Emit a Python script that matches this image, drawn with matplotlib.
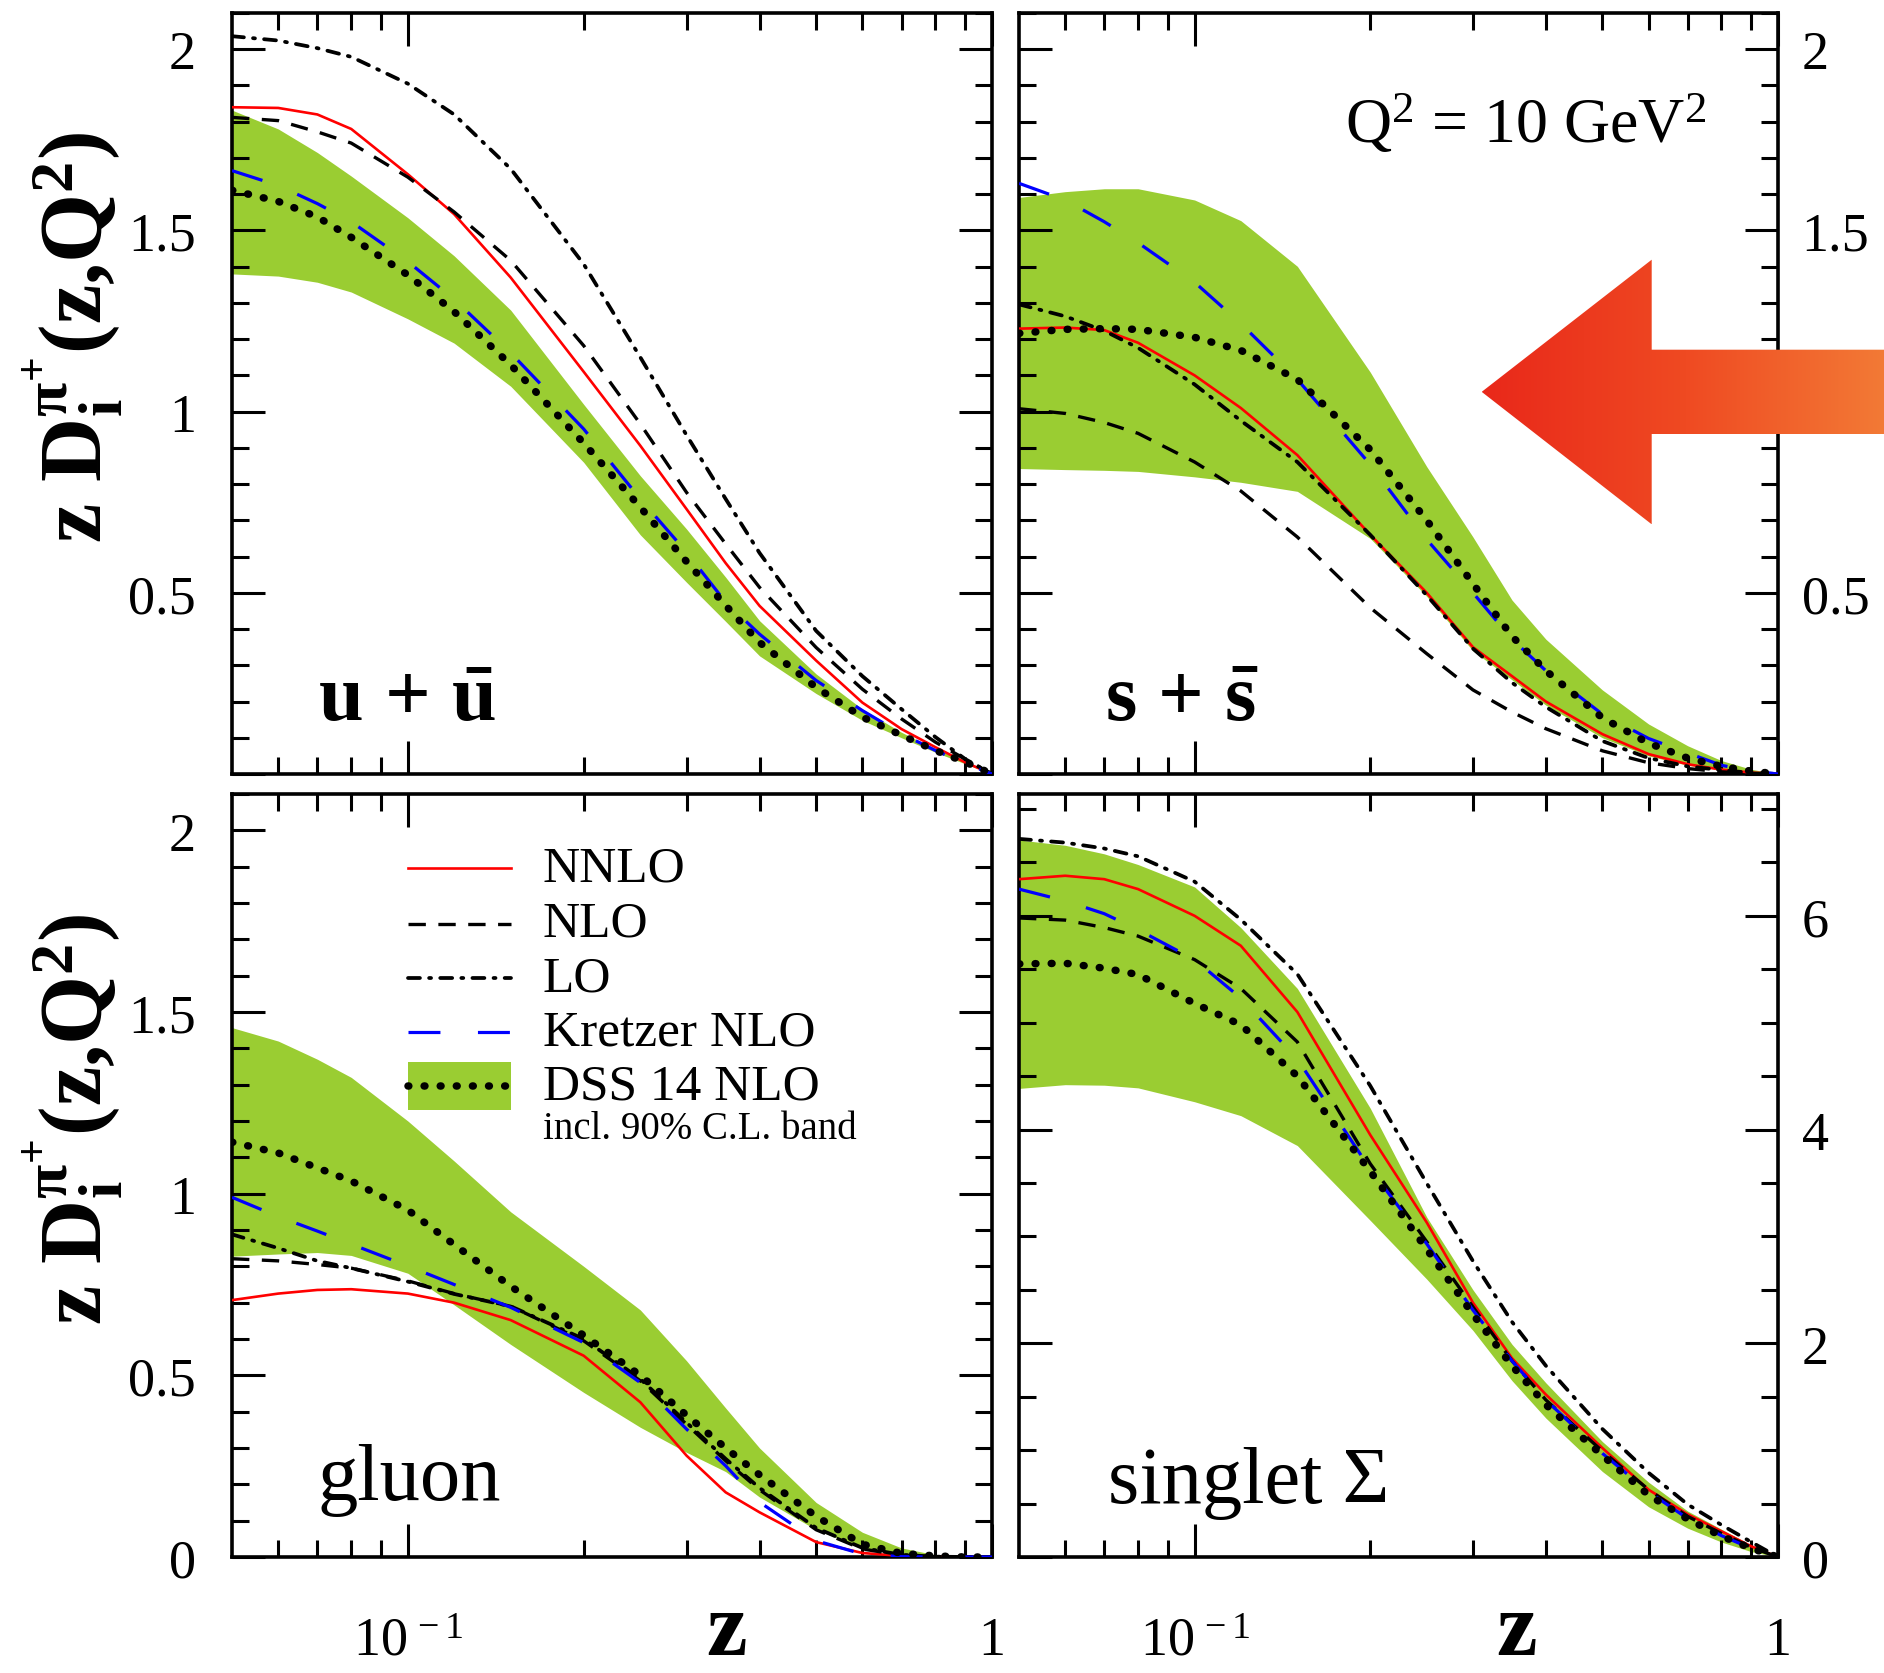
import numpy as np
import matplotlib
matplotlib.use("Agg")
import matplotlib.pyplot as plt
from matplotlib.ticker import (MultipleLocator, FixedLocator, FuncFormatter,
                               NullFormatter)
from matplotlib.patches import Polygon, Rectangle
from matplotlib.colors import LinearSegmentedColormap

plt.rcParams['font.family'] = ['Liberation Serif', 'DejaVu Serif']
plt.rcParams['mathtext.fontset'] = 'custom'
plt.rcParams['mathtext.rm'] = 'Liberation Serif'
plt.rcParams['mathtext.it'] = 'Liberation Serif:italic'
plt.rcParams['mathtext.bf'] = 'Liberation Serif:bold'
plt.rcParams['lines.scale_dashes'] = False

# ---------------- data ----------------
z = [0.05, 0.06, 0.07, 0.08, 0.1, 0.12, 0.15, 0.2, 0.25, 0.3, 0.35, 0.4,
     0.5, 0.6, 0.7, 0.8, 0.9, 1.0]

# u + ubar
u_nnlo = [1.84, 1.838, 1.82, 1.78, 1.655, 1.545, 1.37, 1.11, 0.906, 0.731, 0.582, 0.464, 0.313, 0.197, 0.124, 0.074, 0.032, 0.0]
u_nlo = [1.812, 1.803, 1.772, 1.741, 1.647, 1.551, 1.417, 1.182, 0.966, 0.777, 0.635, 0.515, 0.349, 0.234, 0.152, 0.088, 0.041, 0.0]
u_lo = [2.036, 2.024, 2.003, 1.979, 1.905, 1.82, 1.67, 1.407, 1.15, 0.935, 0.759, 0.61, 0.395, 0.27, 0.179, 0.102, 0.041, 0.0]
u_kretzer = [1.665, 1.624, 1.574, 1.524, 1.414, 1.31, 1.162, 0.952, 0.759, 0.612, 0.474, 0.386, 0.258, 0.175, 0.111, 0.065, 0.029, 0.0]
u_dss = [1.611, 1.58, 1.537, 1.481, 1.377, 1.276, 1.129, 0.913, 0.736, 0.586, 0.465, 0.363, 0.239, 0.157, 0.107, 0.065, 0.033, 0.0]
u_band_hi = [1.832, 1.78, 1.715, 1.65, 1.535, 1.43, 1.28, 1.02, 0.823, 0.676, 0.543, 0.423, 0.276, 0.179, 0.115, 0.069, 0.035, 0.0]
u_band_lo = [1.38, 1.374, 1.357, 1.33, 1.256, 1.189, 1.07, 0.86, 0.66, 0.529, 0.421, 0.326, 0.222, 0.148, 0.1, 0.06, 0.028, 0.0]

# s + sbar
s_nnlo = [1.229, 1.232, 1.225, 1.19, 1.10, 1.01, 0.88, 0.66, 0.50, 0.35, 0.27, 0.20, 0.11, 0.055, 0.027, 0.012, 0.004, 0.0]
s_nlo = [1.008, 0.995, 0.97, 0.94, 0.861, 0.781, 0.654, 0.459, 0.332, 0.232, 0.171, 0.125, 0.064, 0.031, 0.015, 0.006, 0.002, 0.0]
s_lo = [1.296, 1.263, 1.223, 1.176, 1.075, 0.975, 0.861, 0.66, 0.493, 0.346, 0.252, 0.185, 0.091, 0.044, 0.021, 0.011, 0.003, 0.0]
s_kretzer = [1.63, 1.584, 1.524, 1.466, 1.357, 1.243, 1.089, 0.854, 0.647, 0.5, 0.372, 0.285, 0.165, 0.098, 0.058, 0.024, 0.008, 0.0]
s_dss = [1.216, 1.227, 1.229, 1.227, 1.205, 1.169, 1.089, 0.895, 0.70, 0.525, 0.38, 0.285, 0.155, 0.085, 0.044, 0.021, 0.008, 0.0]
s_band_hi = [1.591, 1.607, 1.615, 1.615, 1.584, 1.527, 1.401, 1.109, 0.848, 0.654, 0.48, 0.372, 0.232, 0.138, 0.078, 0.037, 0.013, 0.0]
s_band_lo = [0.843, 0.84, 0.838, 0.835, 0.82, 0.805, 0.78, 0.65, 0.49, 0.34, 0.26, 0.19, 0.10, 0.05, 0.024, 0.011, 0.003, 0.0]

# gluon
g_nnlo = [0.707, 0.725, 0.735, 0.737, 0.725, 0.70, 0.652, 0.554, 0.426, 0.279, 0.178, 0.123, 0.041, 0.011, 0.003, 0.0, 0.0, 0.0]
g_nlo = [0.821, 0.815, 0.805, 0.795, 0.76, 0.725, 0.69, 0.595, 0.485, 0.365, 0.265, 0.185, 0.075, 0.022, 0.005, 0.001, 0.0, 0.0]
g_lo = [0.888, 0.85, 0.815, 0.795, 0.758, 0.724, 0.69, 0.60, 0.49, 0.37, 0.27, 0.19, 0.08, 0.025, 0.006, 0.001, 0.0, 0.0]
g_kretzer = [0.99, 0.937, 0.897, 0.861, 0.801, 0.75, 0.687, 0.59, 0.48, 0.352, 0.251, 0.151, 0.045, 0.008, 0.001, 0.0, 0.0, 0.0]
g_dss = [1.142, 1.112, 1.071, 1.035, 0.955, 0.86, 0.745, 0.61, 0.50, 0.39, 0.30, 0.226, 0.112, 0.035, 0.01, 0.003, 0.0, 0.0]
g_band_hi = [1.457, 1.42, 1.37, 1.32, 1.20, 1.09, 0.95, 0.80, 0.68, 0.54, 0.41, 0.30, 0.15, 0.068, 0.025, 0.006, 0.0, 0.0]
g_band_lo = [0.828, 0.834, 0.838, 0.83, 0.781, 0.694, 0.585, 0.453, 0.357, 0.288, 0.235, 0.165, 0.075, 0.025, 0.007, 0.001, 0.0, 0.0]

# singlet Sigma
t_nnlo = [6.343, 6.375, 6.343, 6.25, 6.0, 5.72, 5.1, 3.95, 3.13, 2.38, 1.86, 1.52, 1.02, 0.63, 0.40, 0.24, 0.10, 0.0]
t_nlo = [5.98, 5.96, 5.89, 5.81, 5.59, 5.32, 4.82, 3.68, 2.95, 2.34, 1.835, 1.47, 0.99, 0.63, 0.38, 0.22, 0.09, 0.0]
t_lo = [6.72, 6.685, 6.63, 6.557, 6.32, 5.965, 5.455, 4.41, 3.497, 2.769, 2.2, 1.79, 1.198, 0.788, 0.492, 0.30, 0.14, 0.0]
t_kretzer = [6.25, 6.14, 6.02, 5.87, 5.59, 5.23, 4.66, 3.63, 2.93, 2.31, 1.835, 1.47, 0.97, 0.61, 0.36, 0.20, 0.08, 0.0]
t_dss = [5.55, 5.556, 5.51, 5.45, 5.18, 4.98, 4.5, 3.61, 2.88, 2.27, 1.79, 1.425, 0.95, 0.58, 0.355, 0.195, 0.08, 0.0]
t_band_hi = [6.71, 6.66, 6.58, 6.48, 6.27, 5.89, 5.32, 4.2, 3.18, 2.5, 1.99, 1.63, 1.08, 0.70, 0.43, 0.26, 0.11, 0.0]
t_band_lo = [4.385, 4.42, 4.415, 4.39, 4.26, 4.13, 3.85, 3.15, 2.6, 2.12, 1.65, 1.3, 0.8, 0.47, 0.27, 0.14, 0.05, 0.0]

panel_labels = [r'$\mathbf{u\,+\,\bar{u}}$', r'$\mathbf{s\,+\,\bar{s}}$', 'gluon', 'singlet Σ']
legend_labels = ['NNLO', 'NLO', 'LO', 'Kretzer NLO', 'DSS 14 NLO']
band_note = 'incl. 90% C.L. band'
scale_text = r'Q$^{\mathregular{2}}$ = 10 GeV$^{\mathregular{2}}$'
ylabel_text = r'z D$_{\mathbf{i}}^{\mathbf{\pi^{+}}}$(z,Q$^{\mathbf{2}}$)'
xlabel_text = 'z'
xmajor = [0.1, 1.0]
xmajor_labels = {0.1: r'$10^{\,-1}$', 1.0: '1'}
xminor = [0.06, 0.07, 0.08, 0.09, 0.2, 0.3, 0.4, 0.5, 0.6, 0.7, 0.8, 0.9]

# ---------------- styles ----------------
GREEN = '#9acd32'
STY = {
    'nnlo': dict(color='#ff0000', lw=1.9, ls='-'),
    'nlo': dict(color='black', lw=2.4, dashes=(12.5, 9), dash_capstyle='butt'),
    'lo': dict(color='black', lw=2.7, dashes=(8.6, 6.6, 1.4, 6.6), dash_capstyle='round'),
    'kretzer': dict(color='#0000ff', lw=2.3, dashes=(23, 27), dash_capstyle='butt'),
    'dss': dict(color='black', lw=5.4, dashes=(0.6, 11.0), dash_capstyle='round'),
}

W, H = 1884, 1674
fig = plt.figure(figsize=(W / 100, H / 100), dpi=100)


def frac(x0, y0, x1, y1):
    return [x0 / W, 1 - y1 / H, (x1 - x0) / W, (y1 - y0) / H]


ax_u = fig.add_axes(frac(232, 14, 992, 775))
ax_s = fig.add_axes(frac(1019, 14, 1778, 775))
ax_g = fig.add_axes(frac(232, 795, 992, 1558))
ax_t = fig.add_axes(frac(1019, 795, 1778, 1558))

panels = [
    (ax_u, u_nnlo, u_nlo, u_lo, u_kretzer, u_dss, u_band_lo, u_band_hi),
    (ax_s, s_nnlo, s_nlo, s_lo, s_kretzer, s_dss, s_band_lo, s_band_hi),
    (ax_g, g_nnlo, g_nlo, g_lo, g_kretzer, g_dss, g_band_lo, g_band_hi),
    (ax_t, t_nnlo, t_nlo, t_lo, t_kretzer, t_dss, t_band_lo, t_band_hi),
]

for ax, nnlo, nlo, lo, kre, dss, blo, bhi in panels:
    ax.fill_between(z, blo, bhi, color=GREEN, lw=0, zorder=1)
    ax.plot(z, nnlo, zorder=3, **STY['nnlo'])
    ax.plot(z, nlo, zorder=3, **STY['nlo'])
    ax.plot(z, lo, zorder=4, **STY['lo'])
    ax.plot(z, kre, zorder=4, **STY['kretzer'])
    ax.plot(z, dss, zorder=5, **STY['dss'])
    ax.set_xscale('log')
    ax.set_xlim(0.05, 1.0)
    ax.xaxis.set_major_locator(FixedLocator(xmajor))
    ax.xaxis.set_minor_locator(FixedLocator(xminor))
    ax.xaxis.set_minor_formatter(NullFormatter())
    ax.xaxis.set_major_formatter(FuncFormatter(lambda v, p: xmajor_labels.get(round(v, 3), '')))
    for sp in ax.spines.values():
        sp.set_linewidth(2.6)
    ax.tick_params(which='both', direction='in', top=True, bottom=True,
                   left=True, right=True, width=2.2, labelsize=39)
    ax.tick_params(which='major', length=24)
    ax.tick_params(which='minor', length=12)
    ax.tick_params(axis='x', which='major', pad=70)

# y axes
for ax in (ax_u, ax_s, ax_g):
    ax.set_ylim(0, 2.1)
    ax.yaxis.set_major_locator(MultipleLocator(0.5))
    ax.yaxis.set_minor_locator(MultipleLocator(0.1))
ax_t.set_ylim(0, 7.14)
ax_t.yaxis.set_major_locator(MultipleLocator(2))
ax_t.yaxis.set_minor_locator(MultipleLocator(0.5))

fmt_no0 = FuncFormatter(lambda v, p: '' if abs(v) < 1e-9 else f'{v:g}')
fmt_all = FuncFormatter(lambda v, p: f'{v:g}')
ax_u.yaxis.set_major_formatter(fmt_no0)
ax_s.yaxis.set_major_formatter(fmt_no0)
ax_g.yaxis.set_major_formatter(fmt_all)
ax_t.yaxis.set_major_formatter(fmt_all)

for ax in (ax_u, ax_g):
    ax.tick_params(axis='y', which='major', pad=26, labelleft=True, labelright=False)
for ax in (ax_s, ax_t):
    ax.tick_params(axis='y', which='major', pad=17, labelleft=False, labelright=True)
for ax in (ax_u, ax_s):
    ax.tick_params(axis='x', labelbottom=False)

for ax in (ax_g, ax_t):
    for t in ax.xaxis.get_major_ticks():
        t.label1.set_verticalalignment('baseline')

# axis labels
for ax in (ax_u, ax_g):
    ax.set_ylabel(ylabel_text, fontsize=64, fontweight='bold')
    ax.yaxis.label.set_verticalalignment('center')
    ax.yaxis.label.set_horizontalalignment('center')
ax_u.yaxis.set_label_coords(-0.21, 0.575)
ax_g.yaxis.set_label_coords(-0.21, 0.575)
for ax, xc in ((ax_g, 0.651), (ax_t, 0.655)):
    ax.set_xlabel(xlabel_text, fontsize=66, fontweight='bold')
    ax.xaxis.label.set_verticalalignment('baseline')
    ax.xaxis.set_label_coords(xc, -0.127)

# panel labels
ax_u.text(0.113, 0.071, panel_labels[0], transform=ax_u.transAxes, fontsize=58,
          ha='left', va='baseline')
ax_s.text(0.113, 0.071, panel_labels[1], transform=ax_s.transAxes, fontsize=58,
          ha='left', va='baseline')
ax_g.text(0.113, 0.076, panel_labels[2], transform=ax_g.transAxes, fontsize=58,
          ha='left', va='baseline')
ax_t.text(0.117, 0.0725, panel_labels[3], transform=ax_t.transAxes, fontsize=58,
          ha='left', va='baseline')
ax_s.text(0.906, 0.830, scale_text, transform=ax_s.transAxes, fontsize=46,
          ha='right', va='baseline')

# legend (drawn manually in the gluon panel)
lx0, lx1, tx = 0.2316, 0.367, 0.409
rows = [0.903, 0.830, 0.759, 0.688, 0.617]
keys = ['nnlo', 'nlo', 'lo', 'kretzer', 'dss']
ax_g.add_patch(Rectangle((lx0, 0.586), lx1 - lx0, 0.063, transform=ax_g.transAxes,
                         facecolor=GREEN, edgecolor='none', zorder=6))
for key, yy, lab in zip(keys, rows, legend_labels):
    ax_g.plot([lx0, lx1], [yy, yy], transform=ax_g.transAxes, zorder=7, **STY[key])
    ax_g.text(tx, yy, lab, transform=ax_g.transAxes, fontsize=37, ha='left',
              va='center', zorder=7)
ax_g.text(tx, 0.562, band_note, transform=ax_g.transAxes, fontsize=28,
          ha='left', va='center', zorder=7)

# big gradient arrow overlay (pixel coordinates of the figure)
ov = fig.add_axes([0, 0, 1, 1], zorder=20)
ov.set_xlim(0, W)
ov.set_ylim(H, 0)
ov.set_axis_off()
tip_x, head_x = 1481.7, 1651.7
head_top, head_bot = 260.7, 525.3
shaft_top, shaft_bot = 350.7, 435.0
verts = [(tip_x, (shaft_top + shaft_bot) / 2), (head_x, head_top), (head_x, shaft_top),
         (W + 5, shaft_top), (W + 5, shaft_bot), (head_x, shaft_bot), (head_x, head_bot)]
poly = Polygon(verts, closed=True, facecolor='none', edgecolor='none')
ov.add_patch(poly)
cmap = LinearSegmentedColormap.from_list('arr', ['#e9281a', '#ef4a22', '#f37b36'])
grad = np.linspace(0, 1, 256).reshape(1, -1)
im = ov.imshow(grad, cmap=cmap, aspect='auto', extent=[tip_x, W + 5, head_bot, head_top],
               interpolation='bicubic')
im.set_clip_path(poly)

fig.savefig('out.png', dpi=100)
